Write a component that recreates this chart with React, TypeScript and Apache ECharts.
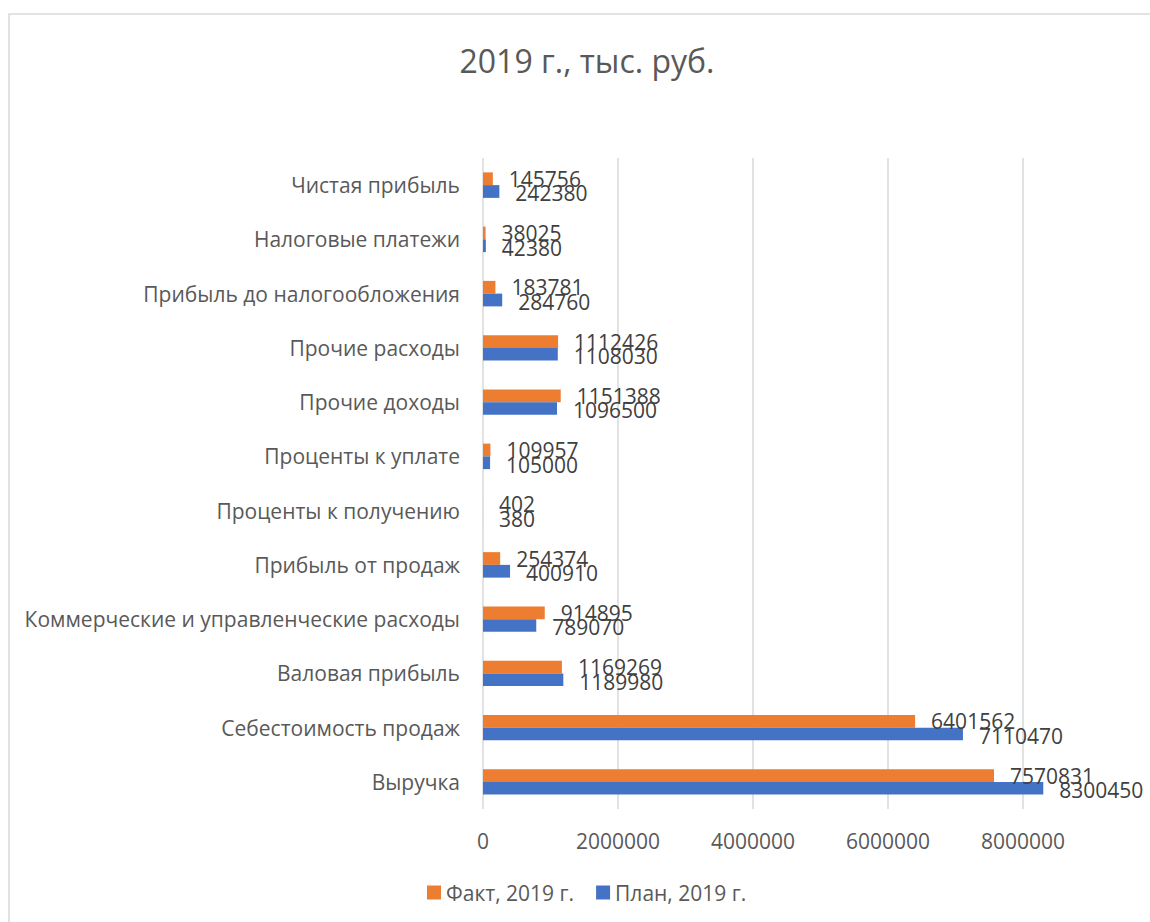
import React, { useEffect, useRef } from "react";
import * as echarts from "echarts";

const categories = [
  "Выручка",
  "Себестоимость продаж",
  "Валовая прибыль",
  "Коммерческие и управленческие расходы",
  "Прибыль от продаж",
  "Проценты к получению",
  "Проценты к уплате",
  "Прочие доходы",
  "Прочие расходы",
  "Прибыль до налогообложения",
  "Налоговые платежи",
  "Чистая прибыль",
];
const factValues = [7570831, 6401562, 1169269, 914895, 254374, 402, 109957, 1151388, 1112426, 183781, 38025, 145756];
const planValues = [8300450, 7110470, 1189980, 789070, 400910, 380, 105000, 1096500, 1108030, 284760, 42380, 242380];
const factName = "Факт, 2019 г.";
const planName = "План, 2019 г.";
const titleText = "2019 г., тыс. руб.";

const FONT = "'Open Sans', 'Noto Sans', sans-serif";

export default function App() {
  const ref = useRef<HTMLDivElement>(null);
  useEffect(() => {
    if (!ref.current) return;
    const chart = echarts.init(ref.current, undefined, { renderer: "svg" });
    chart.setOption({
      animation: false,
      backgroundColor: "#ffffff",
      textStyle: { fontFamily: FONT },
      title: {
        text: titleText,
        left: 582,
        textAlign: "center",
        top: 39,
        textStyle: { fontFamily: FONT, fontSize: 32, fontWeight: "normal", color: "#595959" },
      },
      legend: {
        data: [factName, planName],
        bottom: 14,
        left: 422,
        itemWidth: 14,
        itemHeight: 14,
        itemGap: 22,
        icon: "rect",
        textStyle: { fontFamily: FONT, fontSize: 21, color: "#595959" },
      },
      grid: { left: 483, right: 59.5, top: 158, bottom: 113, containLabel: false },
      xAxis: {
        type: "value",
        min: 0,
        max: 9000000,
        interval: 2000000,
        axisLine: { show: false },
        axisTick: { show: false },
        axisLabel: {
          fontFamily: FONT,
          fontSize: 21,
          color: "#595959",
          margin: 21,
          showMaxLabel: false,
          formatter: (v: number) => String(v),
        },
        splitLine: { show: true, showMaxLine: false, lineStyle: { color: "#d9d9d9", width: 1.5 } },
      },
      yAxis: {
        type: "category",
        data: categories,
        axisLine: { show: false },
        axisTick: { show: false },
        axisLabel: { fontFamily: FONT, fontSize: 21, color: "#595959", margin: 23 },
      },
      series: [
        {
          name: factName,
          type: "bar",
          data: factValues,
          barCategoryGap: "53%",
          barGap: "0%",
          itemStyle: { color: "#ed7d31" },
          label: {
            show: true,
            position: "right",
            distance: 16,
            fontFamily: FONT,
            fontSize: 21,
            color: "#404040",
          },
        },
        {
          name: planName,
          type: "bar",
          data: planValues,
          barCategoryGap: "53%",
          barGap: "0%",
          itemStyle: { color: "#4472c4" },
          label: {
            show: true,
            position: "right",
            distance: 16,
            offset: [0, 2],
            fontFamily: FONT,
            fontSize: 21,
            color: "#404040",
          },
        },
      ],
      graphic: [
        {
          type: "rect",
          shape: { x: 9, y: 14, width: 1200, height: 1000 },
          style: { fill: "none", stroke: "#d9d9d9", lineWidth: 1.5 },
          silent: true,
        },
      ],
    });
    return () => chart.dispose();
  }, []);
  return <div ref={ref} style={{ position: "fixed", left: 0, top: 0, width: 1150, height: 922 }} />;
}
